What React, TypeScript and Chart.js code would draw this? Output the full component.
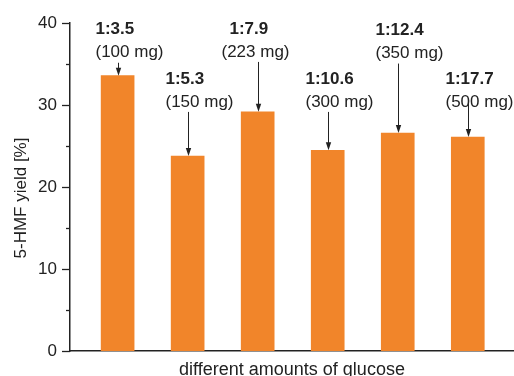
import React, { useEffect, useRef } from 'react';
import { Chart, registerables } from 'chart.js';

Chart.register(...registerables);

const categories = ['100 mg', '150 mg', '223 mg', '300 mg', '350 mg', '500 mg'];
const ratioLabels = ['1:3.5', '1:5.3', '1:7.9', '1:10.6', '1:12.4', '1:17.7'];
const massLabels = ['(100 mg)', '(150 mg)', '(223 mg)', '(300 mg)', '(350 mg)', '(500 mg)'];
const yieldValues = [33.6, 23.8, 29.2, 24.5, 26.6, 26.1];
const yMajorTicks = [0, 10, 20, 30, 40];
const yMinorTicks = [5, 15, 25, 35];
// level (in yield units) where each annotation's bold line sits
const labelLevels = [39.2, 33.2, 39.3, 33.2, 39.1, 33.1];

const BAR_COLOR = '#F1852A';
const INK = '#222222';
const FONT = 'Arial, "Liberation Sans", sans-serif';

const decorPlugin = {
  id: 'decor',
  afterDraw(chart: any) {
    const ctx = chart.ctx as CanvasRenderingContext2D;
    const x = chart.scales.x;
    const y = chart.scales.y;
    const left = chart.chartArea.left;
    ctx.save();
    ctx.strokeStyle = INK;
    ctx.lineWidth = 1.3;
    // ticks
    yMajorTicks.forEach((t) => {
      const py = Math.round(y.getPixelForValue(t)) + 0.5;
      ctx.beginPath();
      ctx.moveTo(left - 8, py);
      ctx.lineTo(left, py);
      ctx.stroke();
    });
    yMinorTicks.forEach((t) => {
      const py = Math.round(y.getPixelForValue(t)) + 0.5;
      ctx.beginPath();
      ctx.moveTo(left - 4, py);
      ctx.lineTo(left, py);
      ctx.stroke();
    });
    // axis titles
    ctx.fillStyle = INK;
    ctx.font = `18px ${FONT}`;
    ctx.textAlign = 'center';
    ctx.textBaseline = 'alphabetic';
    ctx.fillText('different amounts of glucose', (chart.chartArea.left + chart.chartArea.right) / 2, 375);
    ctx.font = `17px ${FONT}`;
    ctx.save();
    ctx.translate(26, 198);
    ctx.rotate(-Math.PI / 2);
    ctx.fillText('5-HMF yield [%]', 0, 0);
    ctx.restore();

    // annotations
    categories.forEach((_, i) => {
      const cx = Math.round(x.getPixelForValue(i + 1)) + 0.5;
      const boldY = y.getPixelForValue(labelLevels[i]);
      const regY = boldY + 23;
      const special = i === 2;
      ctx.textAlign = 'left';
      ctx.textBaseline = 'middle';
      ctx.font = `bold 17px ${FONT}`;
      ctx.fillText(ratioLabels[i], cx - (special ? 29 : 23), boldY);
      ctx.font = `17px ${FONT}`;
      ctx.fillText(massLabels[i], cx - (special ? 37 : 23), regY);
      const startY = i === 5 ? regY - 4 : regY + 10;
      const tipY = y.getPixelForValue(yieldValues[i]);
      ctx.lineWidth = 1;
      ctx.beginPath();
      ctx.moveTo(cx, startY);
      ctx.lineTo(cx, tipY - 6);
      ctx.stroke();
      ctx.beginPath();
      ctx.moveTo(cx, tipY);
      ctx.lineTo(cx - 2.7, tipY - 8);
      ctx.lineTo(cx + 2.7, tipY - 8);
      ctx.closePath();
      ctx.fill();
    });
    ctx.restore();
  },
};

export default function App() {
  const ref = useRef<HTMLCanvasElement | null>(null);
  useEffect(() => {
    if (!ref.current) return;
    const chart = new Chart(ref.current, {
      type: 'bar',
      data: {
        datasets: [
          {
            label: '5-HMF yield',
            data: yieldValues.map((v, i) => ({ x: i + 1, y: v })),
            backgroundColor: BAR_COLOR,
            borderWidth: 0,
            barThickness: 33,
          },
        ],
      },
      options: {
        animation: false,
        responsive: false,
        maintainAspectRatio: false,
        layout: { padding: { top: 23, right: 0, left: 0, bottom: 0 } },
        plugins: { legend: { display: false }, tooltip: { enabled: false } },
        scales: {
          x: {
            type: 'linear',
            min: 0.32,
            max: 6.66,
            offset: false,
            grid: { display: false, drawTicks: false, offset: false },
            ticks: { display: false },
            border: { display: true, color: INK, width: 1.5 },
            afterFit: (s: any) => {
              s.height = 25;
            },
          },
          y: {
            min: 0,
            max: 40,
            grid: { display: false, drawTicks: false },
            border: { display: true, color: INK, width: 1.5 },
            ticks: {
              stepSize: 10,
              padding: 13,
              color: INK,
              font: { size: 17, family: FONT },
            },
            afterFit: (s: any) => {
              s.width = 70;
            },
          },
        },
      },
      plugins: [decorPlugin],
    });
    return () => chart.destroy();
  }, []);
  return (
    <div style={{ position: 'absolute', left: 0, top: 0, width: 514, height: 376, background: '#fff' }}>
      <canvas ref={ref} width={514} height={376} />
    </div>
  );
}
